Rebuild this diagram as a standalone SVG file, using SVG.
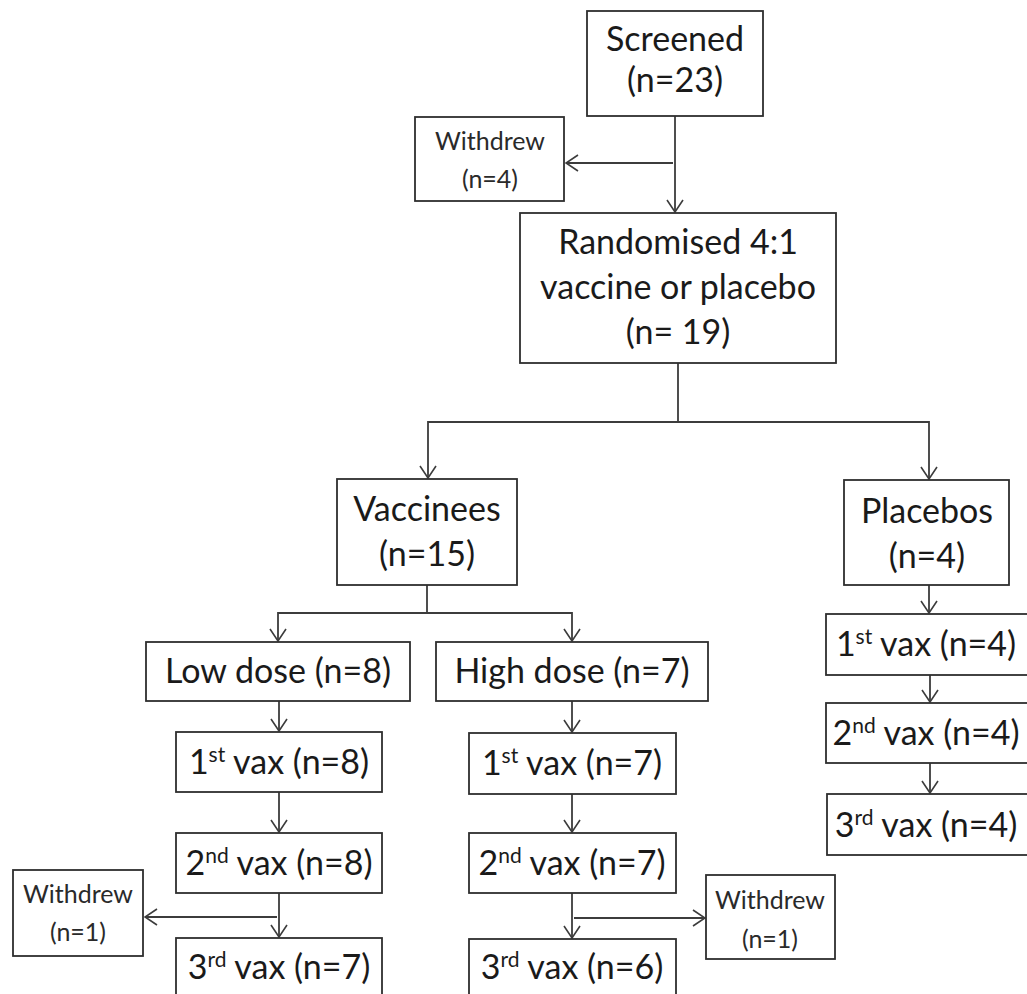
<svg xmlns="http://www.w3.org/2000/svg" width="1027" height="994" viewBox="0 0 1027 994">
<style>
  .box{fill:#fff;stroke:#2e2e2e;stroke-width:1.8}
  .t{font-family:Lato,"Open Sans",sans-serif;font-size:34px;fill:#1a1a1a;text-anchor:middle}
  .s{font-family:Lato,"Open Sans",sans-serif;font-size:25px;fill:#2a2a2a;text-anchor:middle}
  .sup{font-size:21px}
  .c{fill:none;stroke:#3c3c3c;stroke-width:1.8}
</style>
<defs>
  <marker id="ah" viewBox="0 0 14 18" refX="13" refY="9" markerWidth="14" markerHeight="18" markerUnits="userSpaceOnUse" orient="auto">
    <path d="M1,1 L13,9 L1,17" fill="none" stroke="#3c3c3c" stroke-width="1.6"/>
  </marker>
</defs>
<rect width="1027" height="994" fill="#fff"/>
<g id="connectors">
  <path class="c" d="M675,116 V212" marker-end="url(#ah)"/>
  <path class="c" d="M673,163 H566" marker-end="url(#ah)"/>
  <path class="c" d="M678,363 V422 H428 V478" marker-end="url(#ah)"/>
  <path class="c" d="M678,422 H929 V479" marker-end="url(#ah)"/>
  <path class="c" d="M427,585 V613 H278 V641" marker-end="url(#ah)"/>
  <path class="c" d="M427,613 H572 V641" marker-end="url(#ah)"/>
  <path class="c" d="M279,701 V731" marker-end="url(#ah)"/>
  <path class="c" d="M279,792 V832" marker-end="url(#ah)"/>
  <path class="c" d="M279,893 V937" marker-end="url(#ah)"/>
  <path class="c" d="M277,917 H145" marker-end="url(#ah)"/>
  <path class="c" d="M572,701 V732" marker-end="url(#ah)"/>
  <path class="c" d="M572,794 V832" marker-end="url(#ah)"/>
  <path class="c" d="M572,893 V938" marker-end="url(#ah)"/>
  <path class="c" d="M574,918 H705" marker-end="url(#ah)"/>
  <path class="c" d="M929,585 V613" marker-end="url(#ah)"/>
  <path class="c" d="M930,675 V702" marker-end="url(#ah)"/>
  <path class="c" d="M930,763 V793" marker-end="url(#ah)"/>
</g>
<g id="screened">
  <rect class="box" x="587" y="11" width="176" height="105"/>
  <text class="t" x="675" y="51">Screened</text>
  <text class="t" x="675" y="92">(n=23)</text>
</g>
<g id="withdrew1">
  <rect class="box" x="415" y="117" width="149" height="84"/>
  <text class="s" x="490" y="150">Withdrew</text>
  <text class="s" x="490" y="188">(n=4)</text>
</g>
<g id="randomised">
  <rect class="box" x="520" y="213" width="316" height="150"/>
  <text class="t" x="678" y="254">Randomised 4:1</text>
  <text class="t" x="678" y="299">vaccine or placebo</text>
  <text class="t" x="678" y="344">(n= 19)</text>
</g>
<g id="vaccinees">
  <rect class="box" x="337" y="479" width="180" height="106"/>
  <text class="t" x="427" y="521">Vaccinees</text>
  <text class="t" x="427" y="566">(n=15)</text>
</g>
<g id="placebos">
  <rect class="box" x="844" y="480" width="165" height="105"/>
  <text class="t" x="927" y="523">Placebos</text>
  <text class="t" x="927" y="568">(n=4)</text>
</g>
<g id="lowdose">
  <rect class="box" x="146" y="642" width="264" height="59"/>
  <text class="t" x="278" y="683">Low dose (n=8)</text>
</g>
<g id="highdose">
  <rect class="box" x="436" y="642" width="272" height="59"/>
  <text class="t" x="572" y="683">High dose (n=7)</text>
</g>
<g id="low1">
  <rect class="box" x="176" y="732" width="206" height="60"/>
  <text class="t" x="279" y="774">1<tspan class="sup" dy="-12">st</tspan><tspan dy="12"> vax (n=8)</tspan></text>
</g>
<g id="low2">
  <rect class="box" x="176" y="833" width="206" height="60"/>
  <text class="t" x="279" y="875">2<tspan class="sup" dy="-12">nd</tspan><tspan dy="12"> vax (n=8)</tspan></text>
</g>
<g id="low3">
  <rect class="box" x="176" y="938" width="206" height="62"/>
  <text class="t" x="279" y="979">3<tspan class="sup" dy="-12">rd</tspan><tspan dy="12"> vax (n=7)</tspan></text>
</g>
<g id="withdrew2">
  <rect class="box" x="13" y="870" width="130" height="86"/>
  <text class="s" x="78" y="903">Withdrew</text>
  <text class="s" x="78" y="941">(n=1)</text>
</g>
<g id="high1">
  <rect class="box" x="469" y="733" width="207" height="61"/>
  <text class="t" x="572" y="775">1<tspan class="sup" dy="-12">st</tspan><tspan dy="12"> vax (n=7)</tspan></text>
</g>
<g id="high2">
  <rect class="box" x="469" y="833" width="207" height="60"/>
  <text class="t" x="572" y="875">2<tspan class="sup" dy="-12">nd</tspan><tspan dy="12"> vax (n=7)</tspan></text>
</g>
<g id="high3">
  <rect class="box" x="469" y="939" width="207" height="62"/>
  <text class="t" x="572" y="979">3<tspan class="sup" dy="-12">rd</tspan><tspan dy="12"> vax (n=6)</tspan></text>
</g>
<g id="withdrew3">
  <rect class="box" x="706" y="875" width="129" height="84"/>
  <text class="s" x="770" y="909">Withdrew</text>
  <text class="s" x="770" y="948">(n=1)</text>
</g>
<g id="plac1">
  <rect class="box" x="826" y="614" width="210" height="61"/>
  <text class="t" x="926" y="656">1<tspan class="sup" dy="-12">st</tspan><tspan dy="12"> vax (n=4)</tspan></text>
</g>
<g id="plac2">
  <rect class="box" x="826" y="703" width="210" height="60"/>
  <text class="t" x="926" y="745">2<tspan class="sup" dy="-12">nd</tspan><tspan dy="12"> vax (n=4)</tspan></text>
</g>
<g id="plac3">
  <rect class="box" x="827" y="794" width="210" height="61"/>
  <text class="t" x="926" y="837">3<tspan class="sup" dy="-12">rd</tspan><tspan dy="12"> vax (n=4)</tspan></text>
</g>
</svg>
